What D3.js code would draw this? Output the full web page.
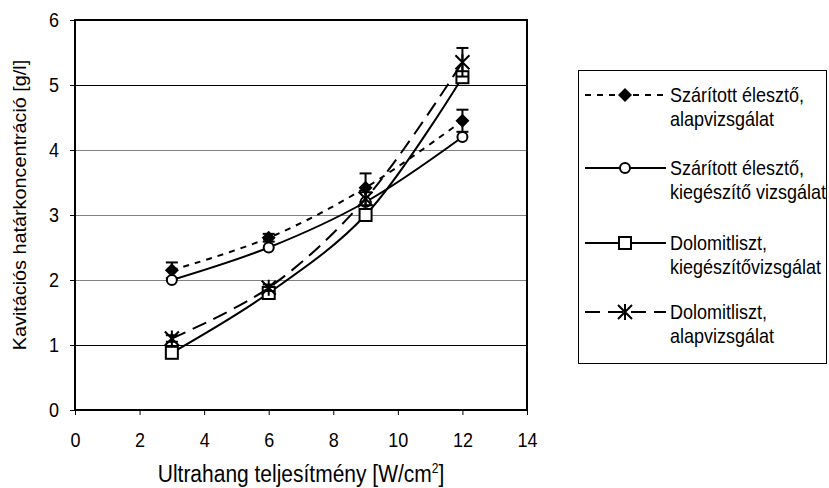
<!DOCTYPE html>
<html>
<head>
<meta charset="utf-8">
<script src="https://cdn.jsdelivr.net/npm/d3@7"></script>
<style>
  body { margin: 0; background: #fff; }
  svg { font-family: "Liberation Sans", Arial, sans-serif; }
  .axis path, .axis line { stroke: #000; }
</style>
</head>
<body>
<div id="chart"></div>
<script>
// Adatok
var xValues = [3, 6, 9, 12];
var xTicks = [0, 2, 4, 6, 8, 10, 12, 14];
var yTicks = [0, 1, 2, 3, 4, 5, 6];

var szaritottAlap = [2.15, 2.65, 3.42, 4.45];
var szaritottAlapErr = [0.12, 0.06, 0.22, 0.17];
var szaritottKieg = [2.0, 2.5, 3.2, 4.2];
var dolomitKieg = [0.88, 1.8, 3.0, 5.12];
var dolomitAlap = [1.1, 1.88, 3.25, 5.35];
var dolomitAlapErr = [0.05, 0.05, 0.1, 0.22];

var seriesNames = [
  ["Szárított élesztő,", "alapvizsgálat"],
  ["Szárított élesztő,", "kiegészítő vizsgálat"],
  ["Dolomitliszt,", "kiegészítővizsgálat"],
  ["Dolomitliszt,", "alapvizsgálat"]
];

var series = [
  {name: seriesNames[0], values: szaritottAlap, err: szaritottAlapErr, marker: "diamond", dash: "6,6"},
  {name: seriesNames[1], values: szaritottKieg, err: null, marker: "circle", dash: null},
  {name: seriesNames[2], values: dolomitKieg, err: null, marker: "square", dash: null},
  {name: seriesNames[3], values: dolomitAlap, err: dolomitAlapErr, marker: "star", dash: "15,8"}
];

var W = 829, H = 488;
var margin = {top: 20, left: 75, right: 302, bottom: 78};
var width = W - margin.left - margin.right;
var height = H - margin.top - margin.bottom;
// A forrás szövegei kissé függőlegesen nyújtottak
var stretch = "scale(1,1.15)";

var svg = d3.select("#chart").append("svg")
    .attr("width", W)
    .attr("height", H);

var g = svg.append("g")
    .attr("transform", "translate(" + margin.left + "," + margin.top + ")");

var x = d3.scaleLinear().domain([0, 14]).range([0, width]);
var y = d3.scaleLinear().domain([0, 6]).range([height, 0]);

// Rácsvonalak
g.selectAll(".grid")
  .data(yTicks.filter(function(d) { return d > 0 && d < 6; }))
  .enter().append("line")
    .attr("class", "grid")
    .attr("x1", 0).attr("x2", width)
    .attr("y1", function(d) { return Math.round(y(d)) + 0.5; })
    .attr("y2", function(d) { return Math.round(y(d)) + 0.5; })
    .attr("stroke", function(d) { return (d === 1 || d === 5) ? "#000" : "#808080"; })
    .attr("stroke-width", 1);

// Tengelyek
var fmt = d3.format("d");
g.append("g")
    .attr("class", "axis x")
    .attr("transform", "translate(0," + height + ")")
    .call(d3.axisBottom(x).tickValues(xTicks).tickFormat(fmt).tickSize(5).tickPadding(14).tickSizeOuter(0))
  .call(function(a) {
    a.select(".domain").remove();
    a.attr("font-size", 18).attr("font-family", null);
    a.selectAll("text").attr("transform", stretch);
  });

g.append("g")
    .attr("class", "axis y")
    .call(d3.axisLeft(y).tickValues(yTicks).tickFormat(fmt).tickSize(5).tickPadding(11).tickSizeOuter(0))
  .call(function(a) {
    a.select(".domain").remove();
    a.attr("font-size", 18).attr("font-family", null);
    a.selectAll("text").attr("transform", stretch);
  });

// Keret a rajzterület körül
g.append("rect")
    .attr("x", 0).attr("y", 0)
    .attr("width", width).attr("height", height)
    .attr("fill", "none")
    .attr("stroke", "#000")
    .attr("stroke-width", 2);

// Görbék (Excel simítás közelítése)
var line = d3.line()
    .x(function(d, i) { return x(xValues[i]); })
    .y(function(d) { return y(d); })
    .curve(d3.curveCatmullRom);

function drawMarker(sel, type, cx, cy) {
  if (type === "diamond") {
    sel.append("path")
      .attr("d", "M" + cx + "," + (cy - 7) + "L" + (cx + 7) + "," + cy + "L" + cx + "," + (cy + 7) + "L" + (cx - 7) + "," + cy + "Z")
      .attr("fill", "#000");
  } else if (type === "circle") {
    sel.append("circle")
      .attr("cx", cx).attr("cy", cy).attr("r", 5)
      .attr("fill", "#fff").attr("stroke", "#000").attr("stroke-width", 2);
  } else if (type === "square") {
    sel.append("rect")
      .attr("x", cx - 6).attr("y", cy - 6).attr("width", 12).attr("height", 12)
      .attr("fill", "#fff").attr("stroke", "#000").attr("stroke-width", 2);
  } else if (type === "star") {
    var s = 7;
    sel.append("path")
      .attr("d", "M" + (cx - s) + "," + (cy - s) + "L" + (cx + s) + "," + (cy + s) +
                 "M" + (cx + s) + "," + (cy - s) + "L" + (cx - s) + "," + (cy + s) +
                 "M" + cx + "," + (cy - s - 1) + "L" + cx + "," + (cy + s + 1))
      .attr("stroke", "#000").attr("stroke-width", 2).attr("fill", "none");
  }
}

series.forEach(function(s) {
  g.append("path")
    .datum(s.values)
    .attr("d", line)
    .attr("fill", "none")
    .attr("stroke", "#000")
    .attr("stroke-width", 2)
    .attr("stroke-dasharray", s.dash);

  // Hibasávok
  if (s.err) {
    s.values.forEach(function(v, i) {
      var px = x(xValues[i]);
      var top = y(v + s.err[i]), bot = y(v - s.err[i]);
      g.append("line").attr("x1", px).attr("x2", px).attr("y1", top).attr("y2", bot)
        .attr("stroke", "#000").attr("stroke-width", 2);
      g.append("line").attr("x1", px - 6).attr("x2", px + 6).attr("y1", top).attr("y2", top)
        .attr("stroke", "#000").attr("stroke-width", 2);
      g.append("line").attr("x1", px - 6).attr("x2", px + 6).attr("y1", bot).attr("y2", bot)
        .attr("stroke", "#000").attr("stroke-width", 2);
    });
  }

  var mg = g.append("g");
  s.values.forEach(function(v, i) {
    drawMarker(mg, s.marker, x(xValues[i]), y(v));
  });
});

// Tengelyfeliratok
svg.append("text")
    .attr("transform", "translate(" + (margin.left + width / 2) + ",482) " + stretch)
    .attr("text-anchor", "middle")
    .attr("font-size", 21)
    .html('Ultrahang teljesítmény [W/cm<tspan dy="-8" font-size="12">2</tspan><tspan dy="8">]</tspan>');

svg.append("text")
    .attr("transform", "translate(26,205) rotate(-90) scale(1.1,1)")
    .attr("text-anchor", "middle")
    .attr("font-size", 18)
    .text("Kavitációs határkoncentráció [g/l]");

// Jelmagyarázat
var legend = svg.append("g");
legend.append("rect")
    .attr("x", 578.5).attr("y", 70.5)
    .attr("width", 248).attr("height", 293)
    .attr("fill", "#fff")
    .attr("stroke", "#000")
    .attr("stroke-width", 1);

var legendY = [95, 168, 243, 312];
series.forEach(function(s, i) {
  var ly = legendY[i];
  legend.append("line")
    .attr("x1", 585).attr("x2", 666)
    .attr("y1", ly).attr("y2", ly)
    .attr("stroke", "#000").attr("stroke-width", 2)
    .attr("stroke-dasharray", s.dash);
  drawMarker(legend, s.marker, 625, ly);
  legend.append("text")
    .attr("transform", "translate(670," + (ly + 7) + ") " + stretch)
    .attr("font-size", 18)
    .text(s.name[0]);
  legend.append("text")
    .attr("transform", "translate(670," + (ly + 31) + ") " + stretch)
    .attr("font-size", 18)
    .text(s.name[1]);
});
</script>
</body>
</html>
